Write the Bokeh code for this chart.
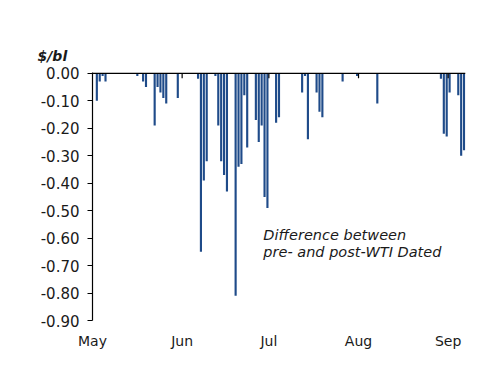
import pandas as pd
from datetime import datetime
from bokeh.plotting import figure
from bokeh.models import (Range1d, FixedTicker, NumeralTickFormatter,
                          DatetimeTickFormatter, Span, Label, ColumnDataSource)
from bokeh.embed import file_html
from bokeh.resources import INLINE

# ---- data ----
dates = ["2023-05-02", "2023-05-03", "2023-05-04", "2023-05-05",
         "2023-05-16", "2023-05-18", "2023-05-19", "2023-05-22", "2023-05-23",
         "2023-05-24", "2023-05-25", "2023-05-26", "2023-05-30",
         "2023-06-06", "2023-06-07", "2023-06-08", "2023-06-09",
         "2023-06-12", "2023-06-13", "2023-06-14", "2023-06-15", "2023-06-16",
         "2023-06-19", "2023-06-20", "2023-06-21", "2023-06-22", "2023-06-23",
         "2023-06-26", "2023-06-27", "2023-06-28", "2023-06-29", "2023-06-30",
         "2023-07-03", "2023-07-04",
         "2023-07-12", "2023-07-13", "2023-07-14",
         "2023-07-17", "2023-07-18", "2023-07-19",
         "2023-07-26", "2023-07-31", "2023-08-07",
         "2023-08-29", "2023-08-30", "2023-08-31", "2023-09-01",
         "2023-09-04", "2023-09-05", "2023-09-06"]
diff = [-0.10, -0.03, -0.01, -0.03,
        -0.01, -0.03, -0.05, -0.19, -0.05,
        -0.07, -0.09, -0.11, -0.09,
        -0.02, -0.65, -0.39, -0.32,
        -0.01, -0.19, -0.32, -0.37, -0.43,
        -0.81, -0.34, -0.33, -0.08, -0.27,
        -0.17, -0.25, -0.19, -0.45, -0.49,
        -0.18, -0.16,
        -0.07, -0.01, -0.24,
        -0.07, -0.14, -0.16,
        -0.03, -0.01, -0.11,
        -0.02, -0.22, -0.23, -0.07,
        -0.08, -0.30, -0.28]
month_starts = ["2023-05-01", "2023-06-01", "2023-07-01", "2023-08-01", "2023-09-01"]
y_ticks = [0.0, -0.1, -0.2, -0.3, -0.4, -0.5, -0.6, -0.7, -0.8, -0.9]
unit_label = "$/bl"
note_lines = ["Difference between", "pre- and post-WTI Dated"]

FONT = "DejaVu Sans"
DAY = 86400000

x = pd.to_datetime(dates) + pd.Timedelta(hours=12)
src = ColumnDataSource(dict(x=x, v=diff))
ms = pd.to_datetime(month_starts)

p = figure(width=492, height=378, x_axis_type="datetime",
           x_range=Range1d(datetime(2023, 5, 1), datetime(2023, 9, 7)),
           y_range=Range1d(-0.9, 0.003),
           output_backend="svg", toolbar_location=None,
           min_border_left=92, min_border_right=27,
           min_border_top=72, min_border_bottom=58)
p.outline_line_color = None
p.xgrid.visible = False
p.ygrid.visible = False
p.background_fill_color = "white"

# unit label as a left-shifted title above the frame
p.title.text = unit_label
p.title.align = "left"
p.title.offset = -55
p.title.standoff = 17
p.title.text_font = FONT
p.title.text_font_size = "14px"
p.title.text_font_style = "bold italic"
p.title.text_color = "#1a1a1a"

p.vbar(x="x", top="v", bottom=0, width=0.74 * DAY, source=src,
       fill_color="#1F4B89", line_color=None)

# zero line and month tick marks
p.add_layout(Span(location=0, dimension="width", line_color="black", line_width=1.5))
tick_len = 0.9 * 5 / 248
p.segment(x0=ms[1:], y0=[0] * (len(ms) - 1), x1=ms[1:], y1=[-tick_len] * (len(ms) - 1),
          line_color="black", line_width=1.2)

# y axis
ya = p.yaxis[0]
ya.ticker = FixedTicker(ticks=y_ticks)
ya.formatter = NumeralTickFormatter(format="0.00")
ya.axis_line_color = "black"
ya.axis_line_width = 1.2
ya.major_tick_line_color = "black"
ya.major_tick_out = 5
ya.major_tick_in = 0
ya.minor_tick_line_color = None
ya.major_label_text_font = FONT
ya.major_label_text_font_size = "15px"
ya.major_label_text_color = "#1a1a1a"
ya.major_label_standoff = 8

# x axis (labels only)
xa = p.xaxis[0]
xa.ticker = FixedTicker(ticks=[t.value // 10**6 for t in ms])
xa.formatter = DatetimeTickFormatter(months="%b", days="%b", hours="%b",
                                     years="%b", minutes="%b", seconds="%b",
                                     milliseconds="%b", microseconds="%b")
xa.axis_line_color = None
xa.major_tick_line_color = None
xa.minor_tick_line_color = None
xa.major_tick_out = 0
xa.major_tick_in = 0
xa.major_label_standoff = 12
xa.major_label_text_font = FONT
xa.major_label_text_font_size = "14px"
xa.major_label_text_color = "#1a1a1a"

# annotation
for i, line in enumerate(note_lines):
    p.add_layout(Label(x=datetime(2023, 6, 29, 2), y=-0.589 - 0.061 * i,
                       text=line, text_font=FONT, text_font_size="14.5px",
                       text_font_style="italic", text_color="#1a1a1a",
                       text_baseline="alphabetic"))

open("out.html", "w").write(file_html(p, INLINE))
